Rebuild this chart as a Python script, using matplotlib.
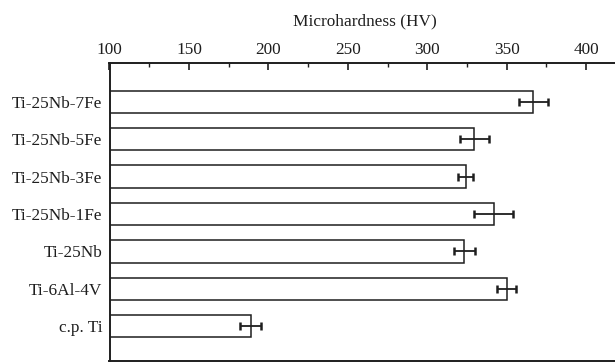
import numpy as np
import matplotlib
matplotlib.use("Agg")
import matplotlib.pyplot as plt
from matplotlib.ticker import MultipleLocator

plt.rcParams['font.family'] = ['Liberation Serif', 'DejaVu Serif']

# bottom to top
alloys = ['c.p. Ti', 'Ti-6Al-4V', 'Ti-25Nb', 'Ti-25Nb-1Fe', 'Ti-25Nb-3Fe', 'Ti-25Nb-5Fe', 'Ti-25Nb-7Fe']
hardness = [188.8, 350.0, 323.3, 341.8, 324.1, 329.6, 366.6]
hardness_err = [6.6, 5.9, 6.7, 12.3, 4.5, 9.0, 9.1]

ink = '#1e1e1e'

fig = plt.figure(figsize=(6.15, 3.62), dpi=100)
ax = fig.add_axes([109.5 / 615, 1 / 362, 1 - 109.5 / 615 + 0.01, (362 - 63.3 - 1) / 362])

y = np.arange(len(alloys))
ax.barh(y, np.array(hardness) - 100, left=100, height=0.6, color='white',
        edgecolor=ink, linewidth=1.1)
ax.errorbar(hardness, y, xerr=hardness_err, fmt='none', ecolor=ink,
            elinewidth=1.3, capsize=3, capthick=1.8)

ax.set_xlim(100, 422)
ax.set_ylim(-0.93, len(alloys) - 1 + 1.03)
ax.set_yticks(y)
ax.set_yticklabels(alloys, fontsize=12.4, color=ink)
ax.tick_params(axis='y', length=0, pad=5)

ax.xaxis.tick_top()
ax.xaxis.set_label_position('top')
ax.xaxis.set_major_locator(MultipleLocator(50))
ax.xaxis.set_minor_locator(MultipleLocator(25))
ax.tick_params(axis='x', which='major', direction='in', length=5, width=1.2,
               labelsize=12.4, pad=4, colors=ink)
ax.tick_params(axis='x', which='minor', direction='in', length=3, width=1.0, colors=ink)
ax.set_xlabel('Microhardness (HV)', fontsize=12.4, labelpad=12, color=ink)

for side in ['top', 'left', 'bottom']:
    ax.spines[side].set_linewidth(1.4)
    ax.spines[side].set_color(ink)
ax.spines['right'].set_visible(False)

fig.savefig('out.png', dpi=100)
